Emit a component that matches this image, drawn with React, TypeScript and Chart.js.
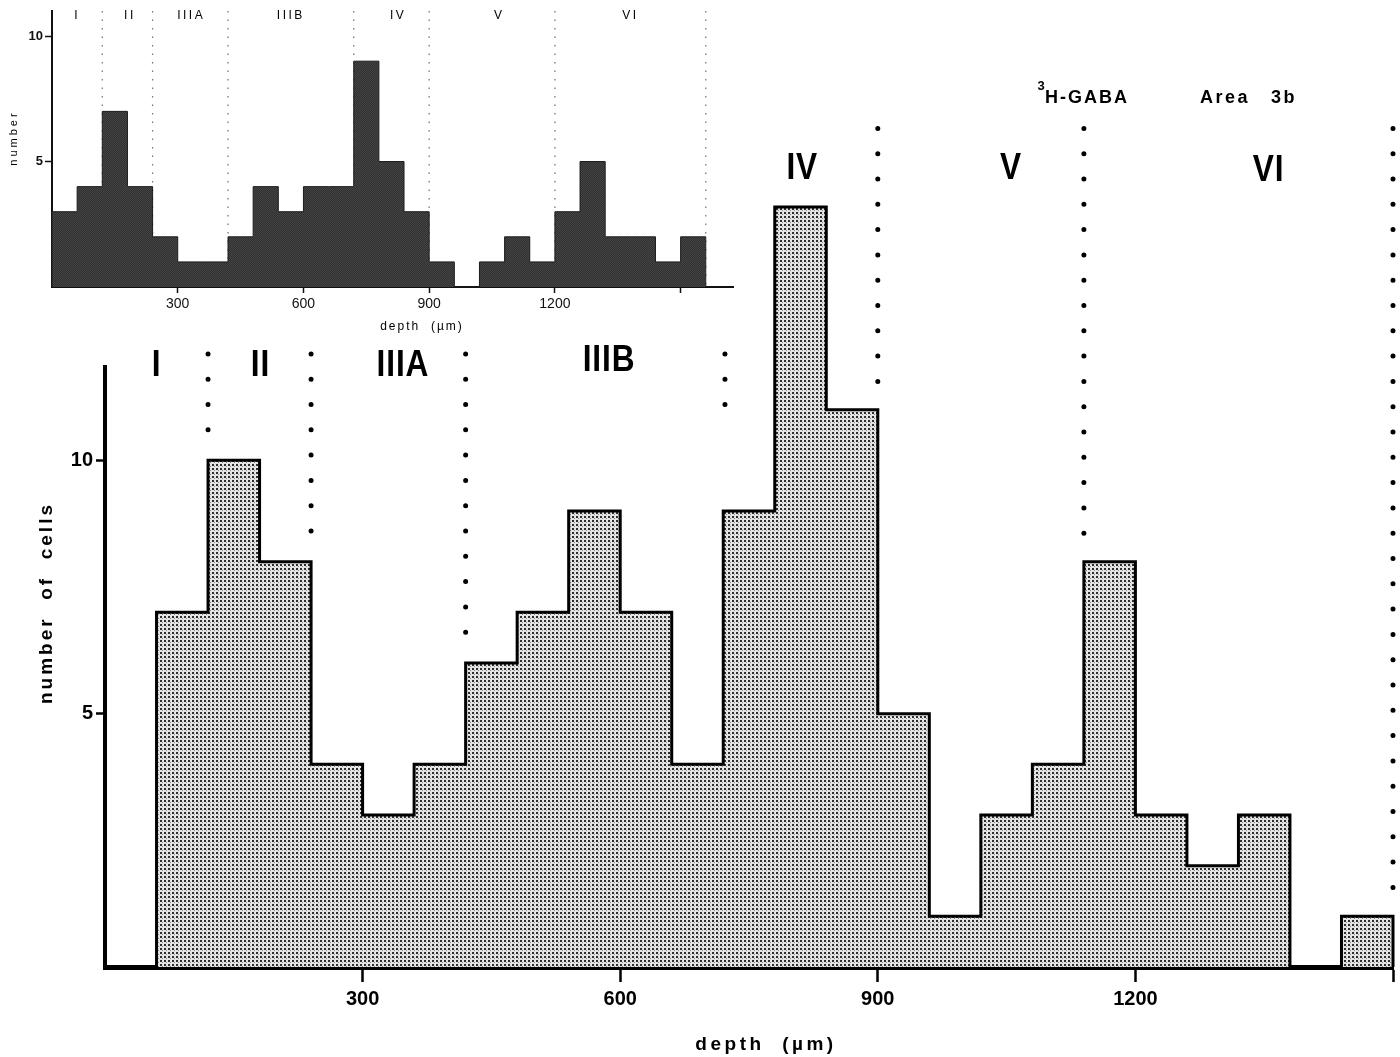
import React, { useEffect, useRef } from 'react';
import { Chart, registerables } from 'chart.js';
Chart.register(...registerables);

// ---------- data ----------
const binWidth = 60;
const mainBinStarts = [60, 120, 180, 240, 300, 360, 420, 480, 540, 600, 660, 720, 780, 840, 900, 960, 1020, 1080, 1140, 1200, 1260, 1320, 1380, 1440];
const mainCounts = [7, 10, 8, 4, 3, 4, 6, 7, 9, 7, 4, 9, 15, 11, 5, 1, 3, 4, 8, 3, 2, 3, 0, 1];
const insetBinStarts = [0, 60, 120, 180, 240, 300, 360, 420, 480, 540, 600, 660, 720, 780, 840, 900, 960, 1020, 1080, 1140, 1200, 1260, 1320, 1380, 1440, 1500];
const insetCounts = [3, 4, 7, 4, 2, 1, 1, 2, 4, 3, 4, 4, 9, 5, 3, 1, 0, 1, 2, 1, 3, 5, 2, 2, 1, 2];

const mainXTickValues = [300, 600, 900, 1200, 1500];
const mainXTickLabels = ['300', '600', '900', '1200', ''];
const mainYTickValues = [5, 10];
const insetXTickValues = [300, 600, 900, 1200, 1500];
const insetXTickLabels = ['300', '600', '900', '1200', ''];
const insetYTickValues = [5, 10];

const layerNames = ['I', 'II', 'IIIA', 'IIIB', 'IV', 'V', 'VI'];
const mainLayerLabelX = [60, 181, 347, 587, 812, 1055, 1355];
const mainLayerLabelY = [11.85, 11.85, 11.85, 11.95, 15.75, 15.75, 15.7];
const mainBoundaryX = [120, 240, 420, 722, 900, 1140, 1500];
const mainBoundaryTop = [12.1, 12.1, 12.1, 12.1, 16.55, 16.55, 16.55];
const mainBoundaryBottom = [10.5, 8.45, 6.45, 11.1, 11.5, 8.5, 1.4];
const insetLayerLabelX = [60, 186, 332, 570, 826, 1067, 1380];
const insetLayerLabelY = 10.8;
const insetBoundaryX = [120, 240, 420, 720, 900, 1200, 1560];

const mainXTitle = 'depth  (µm)';
const mainYTitle = 'number  of  cells';
const insetXTitle = 'depth  (µm)';
const insetYTitle = 'number';
const headerIsotope = 'H-GABA';
const headerArea = ['Area', '3b'];

const FONT = "'Liberation Sans', Arial, Helvetica, sans-serif";

function stepPoints(starts: number[], counts: number[], width: number) {
  const pts: { x: number; y: number }[] = [{ x: starts[0], y: 0 }];
  starts.forEach((s, i) => pts.push({ x: s, y: counts[i] }));
  const end = starts[starts.length - 1] + width;
  pts.push({ x: end, y: counts[counts.length - 1] });
  pts.push({ x: end, y: 0 });
  return pts;
}

function makePattern(size: number, bg: string, draw: (c: CanvasRenderingContext2D) => void) {
  const c = document.createElement('canvas');
  c.width = size;
  c.height = size;
  const g = c.getContext('2d')!;
  g.fillStyle = bg;
  g.fillRect(0, 0, size, size);
  draw(g);
  return g.createPattern(c, 'repeat')!;
}

function spacedText(ctx: CanvasRenderingContext2D, text: string, x: number, y: number, font: string, spacing: number, align: CanvasTextAlign = 'center', scaleX = 1) {
  ctx.save();
  ctx.translate(x, y);
  ctx.scale(scaleX, 1);
  ctx.font = font;
  (ctx as any).letterSpacing = spacing + 'px';
  ctx.textAlign = align;
  ctx.textBaseline = 'middle';
  ctx.fillStyle = '#000';
  ctx.fillText(text, 0, 0);
  ctx.restore();
}

export default function App() {
  const mainRef = useRef<HTMLCanvasElement>(null);
  const insetRef = useRef<HTMLCanvasElement>(null);

  useEffect(() => {
    const stipple = makePattern(4, '#e4e4e4', (g) => {
      g.fillStyle = '#2e2e2e';
      g.fillRect(0, 0, 2, 2);
      g.fillStyle = '#8c8c8c';
      g.fillRect(2, 2, 1, 1);
    });
    const grain = makePattern(2, '#303030', (g) => {
      g.fillStyle = '#454545';
      g.fillRect(0, 0, 1, 1);
      g.fillRect(1, 1, 1, 1);
    });

    const mainDatasets: any[] = [
      {
        data: stepPoints(mainBinStarts, mainCounts, binWidth),
        stepped: 'before',
        borderColor: '#000',
        borderWidth: 3,
        backgroundColor: stipple,
        fill: 'origin',
        pointRadius: 0,
        borderJoinStyle: 'miter',
        clip: false,
      },
      ...mainBoundaryX.map((bx, i) => ({
        data: [{ x: bx, y: mainBoundaryTop[i] }, { x: bx, y: mainBoundaryBottom[i] }],
        borderColor: '#000',
        borderWidth: 5,
        borderDash: [0, 25.3],
        borderCapStyle: 'round',
        pointRadius: 0,
        fill: false,
        clip: false,
      })),
    ];

    const mainPlugin = {
      id: 'mainDecor',
      afterDraw(chart: any) {
        const { ctx, scales } = chart;
        const x = scales.x;
        const y = scales.y;
        ctx.save();
        ctx.strokeStyle = '#000';
        ctx.lineWidth = 4;
        ctx.beginPath();
        ctx.moveTo(x.getPixelForValue(0), y.getPixelForValue(0) + 2);
        ctx.lineTo(x.getPixelForValue(0), y.getPixelForValue(11.88));
        ctx.stroke();
        ctx.restore();
        layerNames.forEach((n, i) => {
          spacedText(ctx, n, x.getPixelForValue(mainLayerLabelX[i]), y.getPixelForValue(mainLayerLabelY[i]), `bold 36px ${FONT}`, 1, 'center', 0.88);
        });
        spacedText(ctx, mainXTitle, 766, 1045, `bold 19px ${FONT}`, 3.5);
        ctx.save();
        ctx.translate(47, 603);
        ctx.rotate(-Math.PI / 2);
        spacedText(ctx, mainYTitle, 0, 0, `bold 19px ${FONT}`, 3);
        ctx.restore();
        spacedText(ctx, '3', 1041, 86, `bold 13px ${FONT}`, 0);
        spacedText(ctx, headerIsotope, 1045, 98, `bold 18px ${FONT}`, 2, 'left');
        spacedText(ctx, headerArea[0], 1200, 98, `bold 18px ${FONT}`, 2.5, 'left');
        spacedText(ctx, headerArea[1], 1271, 98, `bold 18px ${FONT}`, 2.5, 'left');
      },
    };

    const mainChart = new Chart(mainRef.current!, {
      type: 'line',
      data: { datasets: mainDatasets },
      options: {
        responsive: false,
        animation: false,
        devicePixelRatio: 1,
        layout: { padding: { top: 60, right: 7, left: 0, bottom: 0 } },
        plugins: { legend: { display: false }, tooltip: { enabled: false } },
        scales: {
          x: {
            type: 'linear',
            min: 0,
            max: 1500,
            afterFit: (s: any) => { s.height = 90; },
            afterBuildTicks: (s: any) => { s.ticks = mainXTickValues.map((v) => ({ value: v })); },
            grid: { drawOnChartArea: false, drawTicks: true, tickLength: 15, tickWidth: 2.5, color: '#000' },
            border: { display: true, width: 5, color: '#000' },
            ticks: {
              color: '#000',
              padding: 5,
              maxRotation: 0,
              font: { family: FONT, size: 20, weight: 'bold' },
              callback: (v: any) => mainXTickLabels[mainXTickValues.indexOf(Number(v))] ?? '',
            },
          },
          y: {
            type: 'linear',
            min: 0,
            max: 17.9,
            afterFit: (s: any) => { s.width = 105; },
            afterBuildTicks: (s: any) => { s.ticks = mainYTickValues.map((v) => ({ value: v })); },
            grid: { drawOnChartArea: false, drawTicks: true, tickLength: 9, tickWidth: 2.5, color: '#000' },
            border: { display: false },
            ticks: {
              color: '#000',
              padding: 3,
              font: { family: FONT, size: 20, weight: 'bold' },
            },
          },
        },
      } as any,
      plugins: [mainPlugin],
    });

    const insetDatasets: any[] = [
      {
        data: stepPoints(insetBinStarts, insetCounts, binWidth),
        stepped: 'before',
        borderColor: '#1c1c1c',
        borderWidth: 1,
        backgroundColor: grain,
        fill: 'origin',
        pointRadius: 0,
        clip: false,
      },
      ...insetBoundaryX.map((bx) => ({
        data: [{ x: bx, y: 11 }, { x: bx, y: 0 }],
        borderColor: '#777',
        borderWidth: 1.3,
        borderDash: [1.5, 7],
        pointRadius: 0,
        fill: false,
        clip: false,
      })),
    ];

    const insetPlugin = {
      id: 'insetDecor',
      afterDraw(chart: any) {
        const { ctx, scales } = chart;
        const x = scales.x;
        const y = scales.y;
        layerNames.forEach((n, i) => {
          spacedText(ctx, n, x.getPixelForValue(insetLayerLabelX[i]), y.getPixelForValue(insetLayerLabelY), `12px ${FONT}`, 2.5);
        });
        spacedText(ctx, insetXTitle, 422, 327, `12px ${FONT}`, 2);
        ctx.save();
        ctx.translate(14, 138);
        ctx.rotate(-Math.PI / 2);
        spacedText(ctx, insetYTitle, 0, 0, `11px ${FONT}`, 3);
        ctx.restore();
      },
    };

    const insetChart = new Chart(insetRef.current!, {
      type: 'line',
      data: { datasets: insetDatasets },
      options: {
        responsive: false,
        animation: false,
        devicePixelRatio: 1,
        layout: { padding: { top: 11, right: 7, left: 0, bottom: 0 } },
        plugins: { legend: { display: false }, tooltip: { enabled: false } },
        scales: {
          x: {
            type: 'linear',
            min: 0,
            max: 1625,
            afterFit: (s: any) => { s.height = 53; },
            afterBuildTicks: (s: any) => { s.ticks = insetXTickValues.map((v) => ({ value: v })); },
            grid: { drawOnChartArea: false, drawTicks: true, tickLength: 6, tickWidth: 1.5, color: '#111' },
            border: { display: true, width: 2, color: '#111' },
            ticks: {
              color: '#111',
              padding: 3,
              maxRotation: 0,
              font: { family: FONT, size: 14 },
              callback: (v: any) => insetXTickLabels[insetXTickValues.indexOf(Number(v))] ?? '',
            },
          },
          y: {
            type: 'linear',
            min: 0,
            max: 11,
            afterFit: (s: any) => { s.width = 52; },
            afterBuildTicks: (s: any) => { s.ticks = insetYTickValues.map((v) => ({ value: v })); },
            grid: { drawOnChartArea: false, drawTicks: true, tickLength: 7, tickWidth: 1.5, color: '#111' },
            border: { display: true, width: 2, color: '#111' },
            ticks: {
              color: '#111',
              padding: 2,
              font: { family: FONT, size: 13, weight: 'bold' },
            },
          },
        },
      } as any,
      plugins: [insetPlugin],
    });

    return () => {
      mainChart.destroy();
      insetChart.destroy();
    };
  }, []);

  return (
    <div style={{ position: 'absolute', left: 0, top: 0, width: 1400, height: 1057, background: '#fff' }}>
      <canvas ref={mainRef} width={1400} height={1057} style={{ position: 'absolute', left: 0, top: 0, display: 'block' }} />
      <canvas ref={insetRef} width={740} height={340} style={{ position: 'absolute', left: 0, top: 0, display: 'block' }} />
    </div>
  );
}
